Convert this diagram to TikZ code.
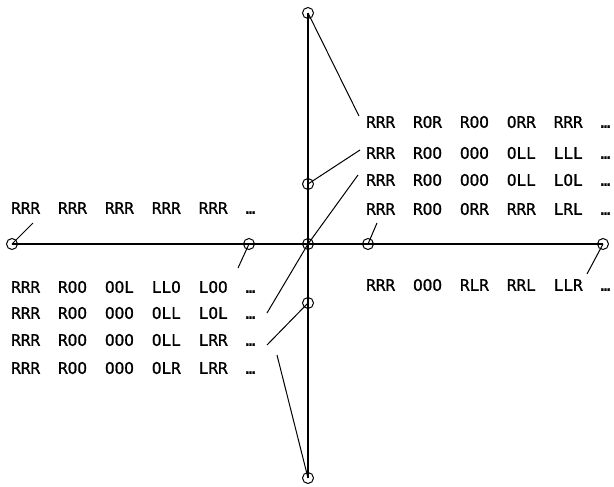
\documentclass[tikz,border=0pt]{standalone}
\usepackage{fontspec}
\newfontfamily\plotfont[FakeBold=1]{DejaVu Sans Mono}
\newcommand\gp{\hspace*{18pt}}
\newcommand\seqfont{\plotfont\fontsize{16pt}{16pt}\selectfont}
\tikzset{
  pt/.style={circle,draw,line width=1pt,minimum size=11pt,inner sep=0pt},
  seq/.style={anchor=west,inner sep=0pt,font=\seqfont},
  axis/.style={line width=1.3pt},
  lead/.style={line width=1pt}
}
\begin{document}
\begin{tikzpicture}[x=1pt,y=-1pt]
\useasboundingbox (0,0) rectangle (614,487);
% circles
\node[pt] (top) at (308,13) {};
\node[pt] (um) at (308,184) {};
\node[pt] (c) at (308,244) {};
\node[pt] (lm) at (308,303) {};
\node[pt] (bot) at (308,478) {};
\node[pt] (L) at (12,244) {};
\node[pt] (Lm) at (249,244) {};
\node[pt] (Rm) at (368,244) {};
\node[pt] (R) at (603,244) {};
% axes
\draw[axis] (L.center) -- (R.center);
\draw[axis] (top.center) -- (bot.center);
% texts right
\node[seq] (r1) at (366,122) {RRR\gp ROR\gp ROO\gp ORR\gp RRR\gp …};
\node[seq] (r2) at (366,153) {RRR\gp ROO\gp OOO\gp OLL\gp LLL\gp …};
\node[seq] (r3) at (366,180) {RRR\gp ROO\gp OOO\gp OLL\gp LOL\gp …};
\node[seq] (r4) at (366,209) {RRR\gp ROO\gp ORR\gp RRR\gp LRL\gp …};
\node[seq] (r5) at (366,285) {RRR\gp OOO\gp RLR\gp RRL\gp LLR\gp …};
% texts left
\node[seq] (l1) at (11,208) {RRR\gp RRR\gp RRR\gp RRR\gp RRR\gp …};
\node[seq] (l2) at (11,287) {RRR\gp ROO\gp OOL\gp LLO\gp LOO\gp …};
\node[seq] (l3) at (11,313) {RRR\gp ROO\gp OOO\gp OLL\gp LOL\gp …};
\node[seq] (l4) at (11,340) {RRR\gp ROO\gp OOO\gp OLL\gp LRR\gp …};
\node[seq] (l5) at (11,368) {RRR\gp ROO\gp OOO\gp OLR\gp LRR\gp …};
% leader ends
\coordinate (e1) at (359,116);
\coordinate (e2) at (360,150);
\coordinate (e3) at (358,175);
\coordinate (e4) at (377,223);
\coordinate (e5) at (587,274);
\coordinate (f1) at (33,223);
\coordinate (f2) at (238,268);
\coordinate (f3) at (267,313);
\coordinate (f4) at (267,345);
\coordinate (f5) at (277,355);
% leaders
\draw[lead] (top.center) -- (e1);
\draw[lead] (um.center) -- (e2);
\draw[lead] (c.center) -- (e3);
\draw[lead] (Rm.center) -- (e4);
\draw[lead] (R.center) -- (e5);
\draw[lead] (L.center) -- (f1);
\draw[lead] (Lm.center) -- (f2);
\draw[lead] (c.center) -- (f3);
\draw[lead] (lm.center) -- (f4);
\draw[lead] (bot.center) -- (f5);
\end{tikzpicture}
\end{document}
